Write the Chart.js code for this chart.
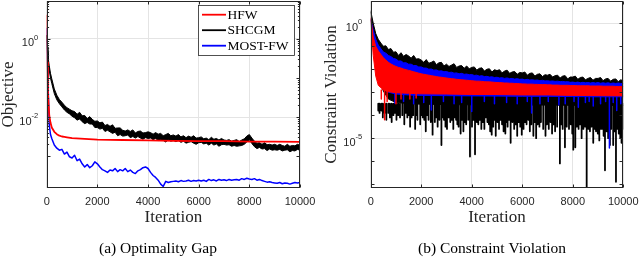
<!DOCTYPE html>
<html>
<head>
<meta charset="utf-8">
<script src="https://cdn.jsdelivr.net/npm/chart.js@4.4.1/dist/chart.umd.min.js"></script>
<style>
  body { margin: 0; background: #fff; width: 640px; height: 257px; overflow: hidden; position: relative; }
  .panel { position: absolute; top: 0; width: 320px; height: 257px; }
</style>
</head>
<body>
<div class="panel" style="left:0"><canvas id="gap" width="320" height="257"></canvas></div>
<div class="panel" style="left:320px"><canvas id="cv" width="320" height="257"></canvas></div>
<script>
// x ticks shared by both panels
var xTicks = [0, 2000, 4000, 6000, 8000, 10000];

// (a) optimality gap, values are log10 of the objective
var gapIters = [0, 20, 50, 100, 150, 200, 300, 400, 500, 600, 700, 800, 900, 1000,
  1100, 1200, 1300, 1400, 1500, 1600, 1700, 1800, 1900, 2000,
  2100, 2200, 2300, 2400, 2500, 2600, 2700, 2800, 2900, 3000,
  3100, 3200, 3300, 3400, 3500, 3600, 3700, 3800, 3900, 4000,
  4100, 4200, 4300, 4400, 4500, 4600, 4700, 4800, 4900, 5000,
  5100, 5200, 5300, 5400, 5500, 5600, 5700, 5800, 5900, 6000,
  6100, 6200, 6300, 6400, 6500, 6600, 6700, 6800, 6900, 7000,
  7100, 7200, 7300, 7400, 7500, 7600, 7700, 7800, 7900, 8000,
  8100, 8200, 8300, 8400, 8500, 8600, 8700, 8800, 8900, 9000,
  9100, 9200, 9300, 9400, 9500, 9600, 9700, 9800, 9900, 10000];

var gapHfwIters = [0, 20, 50, 100, 150, 200, 300, 400, 500, 600, 700, 800, 1000, 1500, 2000, 3000, 4000, 5000, 6000, 7000, 8000, 9000, 10000];
var gapHfwExp = [0.62, -0.6, -1.4, -1.95, -2.15, -2.27, -2.38, -2.44, -2.48, -2.5, -2.51, -2.52, -2.54, -2.56, -2.58, -2.59, -2.6, -2.61, -2.62, -2.62, -2.63, -2.63, -2.64];

// SHCGM is noisy: upper and lower edge of its trace
var gapShcgmTopExp = [0.1, -0.2, -0.45, -0.68, -0.88, -1.02, -1.28, -1.44, -1.55, -1.62, -1.7, -1.76, -1.8, -1.84,
  -1.86, -1.93, -1.88, -1.97, -1.96, -2.04, -1.99, -2.06, -2.11, -2.1,
  -2.15, -2.13, -2.22, -2.19, -2.24, -2.2, -2.29, -2.28, -2.28, -2.34,
  -2.36, -2.33, -2.37, -2.33, -2.41, -2.37, -2.36, -2.41, -2.4, -2.38,
  -2.4, -2.44, -2.4, -2.44, -2.42, -2.48, -2.45, -2.42, -2.48, -2.46,
  -2.49, -2.45, -2.51, -2.48, -2.53, -2.49, -2.52, -2.48, -2.54, -2.53,
  -2.51, -2.56, -2.54, -2.58, -2.52, -2.57, -2.55, -2.59, -2.55, -2.59,
  -2.6, -2.58, -2.62, -2.6, -2.58, -2.63, -2.59, -2.56, -2.49, -2.45,
  -2.54, -2.62, -2.67, -2.66, -2.7, -2.66, -2.71, -2.7, -2.72, -2.7,
  -2.73, -2.7, -2.73, -2.75, -2.7, -2.75, -2.73, -2.74, -2.7, -2.72];
var gapShcgmLowExp = [0.1, -0.3, -0.55, -0.8, -1.0, -1.14, -1.4, -1.56, -1.66, -1.74, -1.82, -1.88, -1.92, -1.98,
  -2.02, -2.08, -2.05, -2.12, -2.17, -2.14, -2.18, -2.18, -2.27, -2.27,
  -2.31, -2.29, -2.37, -2.34, -2.38, -2.42, -2.39, -2.48, -2.45, -2.49,
  -2.48, -2.46, -2.53, -2.5, -2.54, -2.5, -2.54, -2.57, -2.53, -2.55,
  -2.54, -2.58, -2.55, -2.6, -2.58, -2.6, -2.64, -2.58, -2.62, -2.6,
  -2.63, -2.6, -2.65, -2.62, -2.67, -2.65, -2.63, -2.67, -2.7, -2.66,
  -2.65, -2.69, -2.67, -2.72, -2.67, -2.72, -2.69, -2.75, -2.71, -2.7,
  -2.72, -2.71, -2.75, -2.73, -2.75, -2.74, -2.73, -2.7, -2.64, -2.58,
  -2.68, -2.76, -2.81, -2.78, -2.82, -2.81, -2.86, -2.82, -2.85, -2.84,
  -2.85, -2.83, -2.87, -2.85, -2.84, -2.89, -2.86, -2.87, -2.83, -2.85];

var gapMostExp = [0.28, -0.4, -1.1, -2.2, -2.45, -2.55, -2.72, -2.8, -2.85, -2.83, -2.95, -2.9, -3.02, -3.05,
  -2.98, -3.12, -3.08, -3.2, -3.28, -3.22, -3.3, -3.25, -3.15, -3.2,
  -3.28, -3.35, -3.38, -3.42, -3.36, -3.38, -3.32, -3.4, -3.35, -3.38,
  -3.32, -3.4, -3.36, -3.42, -3.45, -3.38, -3.35, -3.3, -3.28, -3.32,
  -3.42, -3.5, -3.55, -3.62, -3.72, -3.78, -3.65, -3.68, -3.66, -3.65,
  -3.64, -3.66, -3.63, -3.65, -3.64, -3.62, -3.65, -3.63, -3.64, -3.62,
  -3.64, -3.62, -3.65, -3.6, -3.63, -3.61, -3.64, -3.6, -3.62, -3.61,
  -3.63, -3.6, -3.62, -3.61, -3.6, -3.62, -3.58, -3.6, -3.57, -3.59,
  -3.6, -3.58, -3.62, -3.6, -3.63, -3.65, -3.67, -3.66, -3.68, -3.69,
  -3.7, -3.68, -3.71, -3.69, -3.7, -3.72, -3.7, -3.68, -3.69, -3.68];

// (b) constraint violation, log10 values: upper edge of each band every 100 iterations
var cvIters = [0, 100, 200, 300, 400, 500, 600, 700, 800, 900,
  1000, 1100, 1200, 1300, 1400, 1500, 1600, 1700, 1800, 1900,
  2000, 2100, 2200, 2300, 2400, 2500, 2600, 2700, 2800, 2900,
  3000, 3100, 3200, 3300, 3400, 3500, 3600, 3700, 3800, 3900,
  4000, 4100, 4200, 4300, 4400, 4500, 4600, 4700, 4800, 4900,
  5000, 5100, 5200, 5300, 5400, 5500, 5600, 5700, 5800, 5900,
  6000, 6100, 6200, 6300, 6400, 6500, 6600, 6700, 6800, 6900,
  7000, 7100, 7200, 7300, 7400, 7500, 7600, 7700, 7800, 7900,
  8000, 8100, 8200, 8300, 8400, 8500, 8600, 8700, 8800, 8900,
  9000, 9100, 9200, 9300, 9400, 9500, 9600, 9700, 9800, 9900, 10000];

var cvShcgmTopExp = [0.55, 0.0, -0.45, -0.7, -0.86, -1.0, -0.98, -1.14, -1.1, -1.26,
  -1.24, -1.4, -1.28, -1.44, -1.36, -1.42, -1.52, -1.4, -1.56, -1.54,
  -1.6, -1.7, -1.58, -1.74, -1.7, -1.64, -1.8, -1.72, -1.7, -1.86,
  -1.78, -1.88, -1.82, -1.76, -1.92, -1.86, -1.84, -1.96, -1.86, -1.98,
  -1.92, -1.9, -2.04, -1.96, -1.94, -2.08, -2.0, -1.98, -2.12, -2.02,
  -2.06, -2.02, -2.16, -2.08, -2.04, -2.18, -2.12, -2.1, -2.22, -2.14,
  -2.16, -2.12, -2.26, -2.18, -2.16, -2.3, -2.22, -2.2, -2.32, -2.24,
  -2.26, -2.22, -2.34, -2.28, -2.26, -2.38, -2.3, -2.28, -2.42, -2.34,
  -2.34, -2.3, -2.44, -2.36, -2.34, -2.46, -2.4, -2.36, -2.48, -2.4,
  -2.4, -2.36, -2.5, -2.42, -2.4, -2.52, -2.44, -2.42, -2.54, -2.46, -2.5];

var cvMostTopExp = [0.2, -0.3, -0.7, -0.95, -1.1, -1.25, -1.3, -1.4, -1.45, -1.53,
  -1.56, -1.64, -1.64, -1.72, -1.72, -1.78, -1.78, -1.84, -1.84, -1.9,
  -1.9, -1.95, -1.95, -2.0, -1.99, -2.04, -2.03, -2.08, -2.07, -2.11,
  -2.1, -2.14, -2.13, -2.17, -2.16, -2.2, -2.18, -2.22, -2.21, -2.24,
  -2.23, -2.27, -2.26, -2.3, -2.28, -2.32, -2.31, -2.34, -2.33, -2.36,
  -2.35, -2.38, -2.37, -2.4, -2.38, -2.41, -2.4, -2.43, -2.41, -2.44,
  -2.43, -2.46, -2.44, -2.47, -2.46, -2.48, -2.47, -2.5, -2.48, -2.51,
  -2.5, -2.52, -2.51, -2.53, -2.52, -2.54, -2.53, -2.55, -2.54, -2.57,
  -2.56, -2.58, -2.56, -2.59, -2.57, -2.59, -2.58, -2.6, -2.58, -2.6,
  -2.58, -2.61, -2.59, -2.61, -2.59, -2.62, -2.6, -2.62, -2.6, -2.62, -2.62];

var cvHfwTopExp = [0.25, -0.6, -1.0, -1.2, -1.35, -1.5, -1.6, -1.7, -1.77, -1.83,
  -1.88, -1.92, -1.95, -1.99, -2.02, -2.05, -2.08, -2.11, -2.14, -2.17,
  -2.2, -2.22, -2.24, -2.26, -2.28, -2.3, -2.32, -2.34, -2.35, -2.37,
  -2.38, -2.4, -2.41, -2.42, -2.44, -2.45, -2.46, -2.47, -2.48, -2.49,
  -2.5, -2.51, -2.52, -2.52, -2.53, -2.54, -2.55, -2.55, -2.56, -2.57,
  -2.58, -2.58, -2.59, -2.6, -2.6, -2.61, -2.61, -2.62, -2.62, -2.63,
  -2.64, -2.64, -2.65, -2.65, -2.65, -2.66, -2.66, -2.67, -2.67, -2.67,
  -2.68, -2.68, -2.69, -2.69, -2.69, -2.7, -2.7, -2.7, -2.7, -2.71,
  -2.71, -2.71, -2.72, -2.72, -2.72, -2.72, -2.72, -2.73, -2.73, -2.73,
  -2.73, -2.73, -2.74, -2.74, -2.74, -2.74, -2.74, -2.75, -2.75, -2.75, -2.75];

// lower edge of each band
var cvLowIters = [0, 100, 200, 300, 500, 700, 1000, 1500, 2000, 3000, 4000, 5000, 6000, 7000, 8000, 9000, 10000];
var cvShcgmLowExp = [0.5, -0.6, -1.6, -2.3, -2.95, -3.3, -3.45, -3.5, -3.52, -3.54, -3.55, -3.55, -3.56, -3.56, -3.57, -3.57, -3.58];
var cvMostLowExp = [0.15, -0.9, -1.8, -2.4, -2.85, -3.0, -3.08, -3.12, -3.14, -3.15, -3.16, -3.17, -3.18, -3.18, -3.19, -3.2, -3.2];
var cvHfwLowExp = [0.2, -1.4, -2.3, -2.7, -2.9, -2.98, -3.02, -3.05, -3.07, -3.08, -3.1, -3.1, -3.12, -3.12, -3.14, -3.15, -3.16];

// downward spikes below the bands: iteration and log10 of the lowest value
var cvShcgmSpikeIters = [300, 350, 420, 480, 550, 620, 700, 760, 830, 900, 960, 1020, 1090, 1160, 1250, 1330, 1390, 1450, 1510, 1560,
  1620, 1680, 1760, 1800, 1850, 1960, 2010, 2060, 2120, 2180, 2240, 2290, 2380, 2450, 2540, 2600, 2650, 2720, 2800, 2860,
  2900, 2960, 3020, 3090, 3150, 3210, 3270, 3330, 3380, 3430, 3480, 3560, 3610, 3670, 3730, 3780, 3860, 3930, 4010, 4070,
  4130, 4200, 4260, 4320, 4380, 4440, 4500, 4560, 4620, 4680, 4730, 4790, 4850, 4900, 4950, 5020, 5080, 5140, 5200, 5260,
  5330, 5380, 5420, 5480, 5540, 5610, 5680, 5740, 5800, 5860, 5920, 5980, 6050, 6110, 6170, 6240, 6300, 6360, 6440, 6490,
  6550, 6610, 6680, 6740, 6830, 6920, 6980, 7050, 7120, 7180, 7240, 7300, 7380, 7490, 7540, 7600, 7690, 7760, 7850, 7920,
  7980, 8020, 8100, 8160, 8230, 8290, 8350, 8420, 8490, 8550, 8620, 8680, 8740, 8810, 8870, 8920, 8990, 9050, 9110, 9160,
  9220, 9275, 9340, 9400, 9470, 9520, 9600, 9650, 9710, 9770, 9820, 9880, 9930, 9980];
var cvShcgmSpikeExp = [-3.8, -3.9, -3.8, -4.1, -3.9, -4.2, -3.9, -4.1, -4.3, -4.0, -3.9, -4.2, -4.0, -4.1, -4.0, -4.4, -3.9, -4.1, -4.0, -4.5,
  -4.1, -4.0, -4.6, -4.0, -4.2, -4.4, -4.0, -4.1, -4.2, -4.7, -4.0, -4.2, -4.3, -4.85, -4.3, -4.1, -4.5, -4.2, -5.3, -4.1,
  -4.2, -4.5, -4.6, -4.1, -4.3, -4.2, -4.6, -4.1, -4.2, -4.4, -4.5, -4.8, -4.2, -4.7, -4.3, -4.4, -4.2, -5.8, -4.5, -4.2,
  -5.7, -4.3, -4.4, -4.2, -4.6, -4.3, -4.6, -4.1, -4.3, -4.4, -4.7, -4.85, -4.5, -4.2, -4.9, -4.3, -4.6, -4.2, -4.4, -4.7,
  -4.8, -4.3, -4.5, -4.2, -5.2, -4.3, -4.6, -4.4, -4.9, -4.3, -4.5, -4.85, -4.6, -4.3, -4.4, -4.2, -4.7, -4.4, -4.9, -4.3,
  -5.0, -4.4, -4.5, -4.3, -4.6, -4.9, -4.4, -4.6, -4.3, -4.8, -4.4, -4.7, -4.5, -6.1, -4.4, -4.6, -5.4, -4.5, -4.6, -4.4,
  -4.8, -5.5, -5.4, -4.5, -4.6, -4.4, -5.0, -4.6, -4.5, -7.3, -4.6, -4.7, -4.5, -5.2, -4.6, -4.7, -4.8, -5.1, -4.6, -4.6,
  -4.9, -6.4, -4.7, -5.0, -5.3, -4.6, -5.3, -4.7, -6.9, -4.6, -4.8, -5.0, -5.2, -4.6];
var cvMostSpikeIters = [960, 1300, 1700, 2100, 2400, 2880, 3300, 3600, 4000, 4500, 4900, 5380, 5800, 6200, 6370,
  6700, 7030, 7450, 7700, 8050, 8220, 8500, 8650, 8810, 9100, 9300, 9450, 9600, 9740, 9900];
var cvMostSpikeExp = [-3.48, -3.4, -3.5, -3.45, -3.77, -3.4, -3.5, -3.45, -3.84, -3.4, -3.5, -3.45, -3.5, -3.4, -3.9,
  -3.5, -3.4, -3.55, -3.5, -3.4, -3.65, -3.45, -3.4, -3.6, -3.5, -3.4, -5.43, -3.45, -3.8, -3.5];
var cvHfwSpikeIters = [420, 550, 650, 1000, 1200, 1550, 1800];
var cvHfwSpikeExp = [-3.3, -4.2, -3.4, -3.5, -3.3, -3.3, -3.25];

var legendNames = ['HFW', 'SHCGM', 'MOST-FW'];
var RED = '#ff0000', BLACK = '#000000', BLUE = '#0000ff';
var INK = '#262626';

function pts(xs, exps) {
    return xs.map(function(x, i) { return { x: x, y: Math.pow(10, exps[i]) }; });
}

// vertical segments from a band edge down to each spike value, broken by nulls
function spikes(xs, exps, fromExp) {
    var out = [];
    xs.forEach(function(x, i) {
        out.push({ x: x, y: Math.pow(10, fromExp) }, { x: x, y: Math.pow(10, exps[i]) }, { x: x, y: null });
    });
    return out;
}

// axes box, inward ticks, labels, titles and legend drawn around the chart area
var frame = {
    id: 'frame',
    afterDraw: function(chart, args, o) {
        var ctx = chart.ctx, a = chart.chartArea, xs = chart.scales.x, ys = chart.scales.y;
        var L = Math.round(a.left) + 0.5, R = Math.round(a.right) - 0.5;
        var T = Math.round(a.top) + 0.5, B = Math.round(a.bottom) - 0.5;
        ctx.save();
        ctx.strokeStyle = INK;
        ctx.lineWidth = 1;
        ctx.strokeRect(L, T, R - L, B - T);

        ctx.beginPath();
        xTicks.forEach(function(v) {
            var p = Math.round(xs.getPixelForValue(v)) + 0.5;
            ctx.moveTo(p, B); ctx.lineTo(p, B - 3);
            ctx.moveTo(p, T); ctx.lineTo(p, T + 3);
        });
        o.majorExps.forEach(function(e) {
            var p = Math.round(ys.getPixelForValue(Math.pow(10, e))) + 0.5;
            ctx.moveTo(L, p); ctx.lineTo(L + 3, p);
            ctx.moveTo(R, p); ctx.lineTo(R - 3, p);
        });
        if (o.minor) {
            o.majorExps.forEach(function(e) {
                for (var m = 2; m < 10; m++) {
                    var v = m * Math.pow(10, e);
                    if (v < ys.min || v > ys.max) continue;
                    var p = Math.round(ys.getPixelForValue(v)) + 0.5;
                    ctx.moveTo(L, p); ctx.lineTo(L + 1.6, p);
                    ctx.moveTo(R, p); ctx.lineTo(R - 1.6, p);
                }
            });
        }
        ctx.stroke();

        // tick labels
        ctx.fillStyle = INK;
        ctx.textBaseline = 'alphabetic';
        ctx.textAlign = 'center';
        ctx.font = '11px "Liberation Sans"';
        xTicks.forEach(function(v) {
            ctx.fillText(String(v), xs.getPixelForValue(v), a.bottom + 17);
        });
        ctx.textAlign = 'right';
        o.labelExps.forEach(function(e) {
            var p = ys.getPixelForValue(Math.pow(10, e));
            var sup = String(e);
            var right = a.left - 8.5;
            ctx.font = '7.5px "Liberation Sans"';
            var w = ctx.measureText(sup).width;
            ctx.fillText(sup, right, p + 1);
            ctx.font = '11px "Liberation Sans"';
            ctx.fillText('10', right - w, p + 7.5);
        });

        // axis titles
        ctx.font = '17px "Liberation Serif"';
        ctx.textAlign = 'center';
        ctx.fillText('Iteration', (a.left + a.right) / 2, a.bottom + 34);
        ctx.save();
        ctx.translate(o.yTitleX, (a.top + a.bottom) / 2);
        ctx.rotate(-Math.PI / 2);
        ctx.fillText(o.yTitle, 0, 0);
        ctx.restore();

        // caption
        ctx.fillStyle = '#000';
        ctx.font = '15.5px "Liberation Serif"';
        ctx.fillText(o.caption, o.captionX, 253);

        // legend
        if (o.legend) {
            var lx = 198.5, ly = 5.5, lw = 96, lh = 50;
            ctx.fillStyle = '#fff';
            ctx.fillRect(lx, ly, lw, lh);
            ctx.strokeStyle = INK;
            ctx.lineWidth = 0.8;
            ctx.strokeRect(lx, ly, lw, lh);
            var cols = [RED, BLACK, BLUE];
            ctx.font = '13.5px "Liberation Serif"';
            ctx.textAlign = 'left';
            ctx.textBaseline = 'middle';
            legendNames.forEach(function(n, i) {
                var y = 14.7 + i * 15.5;
                ctx.strokeStyle = cols[i];
                ctx.lineWidth = 1.8;
                ctx.beginPath();
                ctx.moveTo(202, y); ctx.lineTo(226, y);
                ctx.stroke();
                ctx.fillStyle = '#000';
                ctx.fillText(n, 227.5, y + 0.5);
            });
        }
        ctx.restore();
    }
};

function makeChart(id, datasets, cfg) {
    return new Chart(document.getElementById(id), {
        type: 'line',
        data: { datasets: datasets },
        options: {
            responsive: false,
            animation: false,
            devicePixelRatio: 1,
            layout: { padding: cfg.pad },
            elements: { point: { radius: 0 }, line: { tension: 0, borderJoinStyle: 'round' } },
            plugins: {
                legend: { display: false },
                tooltip: { enabled: false },
                frame: cfg
            },
            scales: {
                x: {
                    type: 'linear', min: 0, max: 10000,
                    afterBuildTicks: function(s) { s.ticks = xTicks.map(function(v) { return { value: v }; }); },
                    ticks: { display: false },
                    grid: { color: '#e4e4e4', drawTicks: false },
                    border: { display: false }
                },
                y: {
                    type: 'logarithmic', min: cfg.yMin, max: cfg.yMax,
                    afterBuildTicks: function(s) { s.ticks = cfg.labelExps.map(function(e) { return { value: Math.pow(10, e) }; }); },
                    ticks: { display: false },
                    grid: { color: '#e4e4e4', drawTicks: false },
                    border: { display: false }
                }
            }
        },
        plugins: [frame]
    });
}

makeChart('gap', [
    { label: legendNames[0], data: pts(gapHfwIters, gapHfwExp), borderColor: RED, borderWidth: 1.8 },
    { label: legendNames[1], data: pts(gapIters, gapShcgmTopExp), borderColor: BLACK, backgroundColor: BLACK, borderWidth: 1, fill: '+1' },
    { label: legendNames[1], data: pts(gapIters, gapShcgmLowExp), borderColor: BLACK, borderWidth: 1 },
    { label: legendNames[2], data: pts(gapIters, gapMostExp), borderColor: BLUE, borderWidth: 1.5 }
], {
    pad: { left: 46.7, right: 20, top: 1, bottom: 69 },
    yMin: Math.pow(10, -3.82), yMax: Math.pow(10, 0.974),
    labelExps: [-2, 0], majorExps: [-3, -2, -1, 0], minor: true,
    yTitle: 'Objective', yTitleX: 12.5,
    caption: '(a) Optimality Gap', captionX: 158, legend: true
});

function band(label, color, order, topExp, lowExp, spikeIters, spikeExp, spikeFrom, spikeWidth) {
    return [
        { label: label, data: pts(cvIters, topExp), borderColor: color, backgroundColor: color, borderWidth: 1, fill: '+1', order: order },
        { label: label, data: pts(cvLowIters, lowExp), borderColor: color, borderWidth: 1, fill: false, order: order },
        { label: label, data: spikes(spikeIters, spikeExp, spikeFrom), borderColor: color, borderWidth: spikeWidth, borderCapStyle: 'butt', fill: false, spanGaps: false, order: order }
    ];
}

makeChart('cv', [].concat(
    band(legendNames[0], RED, 0, cvHfwTopExp, cvHfwLowExp, cvHfwSpikeIters, cvHfwSpikeExp, -2.9, 1.5),
    band(legendNames[2], BLUE, 1, cvMostTopExp, cvMostLowExp, cvMostSpikeIters, cvMostSpikeExp, -3.0, 1.5),
    band(legendNames[1], BLACK, 2, cvShcgmTopExp, cvShcgmLowExp, cvShcgmSpikeIters, cvShcgmSpikeExp, -3.5, 1.8)
), {
    pad: { left: 50.7, right: 16.7, top: 1, bottom: 69 },
    yMin: Math.pow(10, -7.17), yMax: Math.pow(10, 0.97),
    labelExps: [-5, 0], majorExps: [-7, -6, -5, -4, -3, -2, -1, 0], minor: false,
    yTitle: 'Constraint Violation', yTitleX: 16,
    caption: '(b) Constraint Violation', captionX: 172, legend: false
});
</script>
</body>
</html>
